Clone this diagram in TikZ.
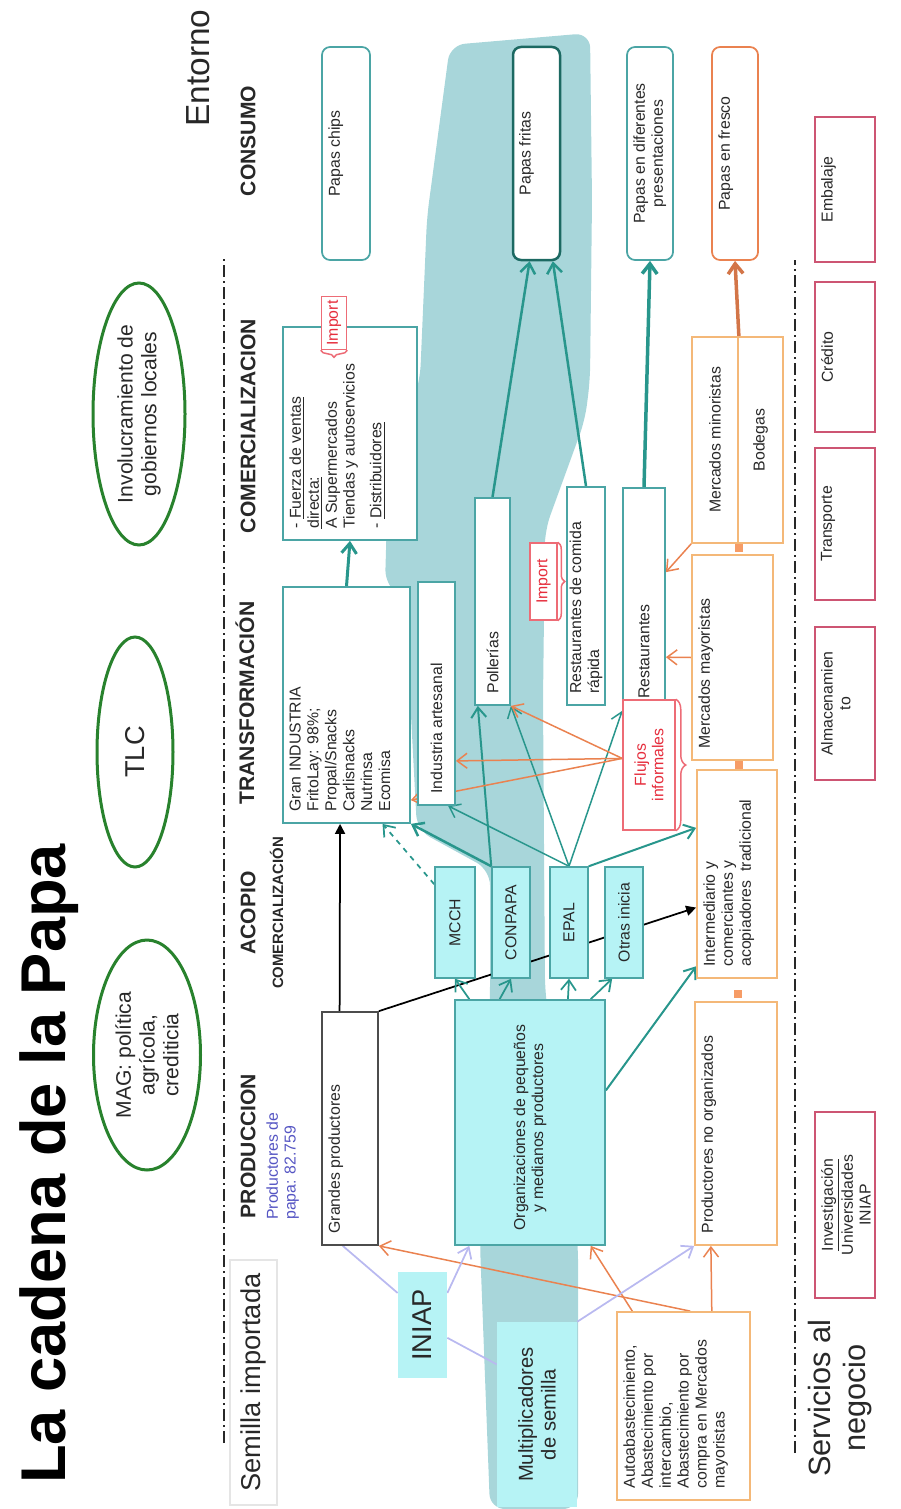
\documentclass[tikz,border=0pt]{standalone}
\usepackage{fontspec}
\setmainfont{Liberation Sans}
\usetikzlibrary{arrows.meta, positioning, shapes.geometric, calc, decorations.pathreplacing}

% Colores
\definecolor{turquesa}{RGB}{75,165,165}
\definecolor{turqflecha}{RGB}{40,150,140}
\definecolor{cian}{RGB}{182,243,245}
\definecolor{rio}{RGB}{168,214,218}
\definecolor{naranja}{RGB}{244,184,120}
\definecolor{naranjaflecha}{RGB}{234,130,80}
\definecolor{carmin}{RGB}{205,85,115}
\definecolor{verde}{RGB}{40,130,45}
\definecolor{lila}{RGB}{185,185,240}
\definecolor{azul}{RGB}{85,85,195}
\definecolor{rojo}{RGB}{230,45,60}
\definecolor{gristexto}{RGB}{40,40,40}

\pgfdeclarelayer{fondo}
\pgfdeclarelayer{enlaces}
\pgfsetlayers{fondo,enlaces,main}

\begin{document}
\begin{tikzpicture}[
    x=0.2mm, y=0.2mm,
    >={Straight Barb[length=2mm,width=3mm]},
    % Texto pequeño de las cajas
    txt/.style = {font=\fontsize{9}{10.2}\selectfont, text=gristexto, align=left, inner sep=0pt},
    % Texto arriba a la izquierda, arriba centrado, o a la izquierda
    arriba/.style = {label={[txt, anchor=north west, inner xsep=2.4mm, inner ysep=1.4mm]north west:#1}},
    arribac/.style = {label={[txt, align=center, anchor=north, inner ysep=1.4mm]north:#1}},
    izq/.style = {label={[txt, anchor=west, inner xsep=2.4mm]west:#1}},
    % Cajas turquesa (transformación, comercialización)
    caja/.style = {rectangle, draw=turquesa, fill=white, line width=0.35mm, inner sep=0pt},
    % Cajas de consumo (esquinas redondeadas)
    consumo/.style = {caja, rounded corners=1.6mm, minimum width=42.6mm},
    % Cajas con relleno cian (acopio)
    acopio/.style = {rectangle, draw=turquesa, fill=cian, line width=0.3mm, minimum width=22.2mm,
        font=\fontsize{9}{10}\selectfont, text=gristexto},
    % Cajas naranjas (canal tradicional)
    tradicional/.style = {rectangle, draw=naranja, fill=white, line width=0.35mm, inner sep=0pt,
        font=\fontsize{9}{10.2}\selectfont, text=gristexto, align=center},
    % Servicios al negocio
    servicio/.style = {rectangle, draw=carmin, fill=white, line width=0.5mm, inner sep=0pt, minimum height=12mm},
    % Óvalos del entorno
    ovalo/.style = {ellipse, draw=verde, line width=0.6mm, fill=white, align=center, inner sep=0pt,
        font=\fontsize{12}{13.5}\selectfont, text=gristexto},
    % Encabezados de las etapas
    etapa/.style = {font=\bfseries\fontsize{12}{13}\selectfont, text=gristexto},
    % Llamadas en rojo
    llamada/.style = {rectangle, draw=rojo!70, fill=white, line width=0.3mm, align=center,
        font=\fontsize{9}{10}\selectfont, text=rojo, inner sep=0pt},
    % Líneas
    flechat/.style = {->, draw=turqflecha, line width=0.4mm},
    flechan/.style = {->, draw=naranjaflecha, line width=0.3mm},
    flechal/.style = {draw=lila, line width=0.35mm},
    flechanegra/.style = {-{Triangle[length=2mm,width=2mm]}, draw=black, line width=0.35mm},
    separador/.style = {draw=gristexto, line width=0.35mm, dash pattern=on 2.4mm off 0.8mm on 0.4mm off 0.8mm}
]
\useasboundingbox (0,0) rectangle (901,-1509);

\begin{scope}[shift={(0,-1509)}, rotate=90, transform shape]

    % --- FONDO: el río de las organizaciones ---
    \begin{pgfonlayer}{fondo}
    \fill [rio, rounded corners=3mm] (1464,-450) -- (1476,-590) -- (1309,-592) -- (1129,-590)
        -- (1089,-585) -- (979,-545) -- (809,-543) -- (519,-545) -- (264,-578) -- (0,-578)
        -- (0,-490) -- (264,-480) -- (509,-490) -- (639,-490) -- (679,-417) -- (909,-405)
        -- (924,-385) -- (1029,-388) -- (1129,-420) -- (1292,-427) -- cycle;
    \end{pgfonlayer}

    % --- TÍTULO Y ENTORNO ---
    \node [anchor=base west, font=\bfseries\fontsize{36}{40}\selectfont] (titulo) at (19,-65) {La cadena de la Papa};
    \node [font=\fontsize{19}{22}\selectfont, text=gristexto] (entorno) at (1441,-198) {Entorno};
    \node [ovalo, minimum width=46mm, minimum height=21.4mm] (mag) at (454,-147) {MAG: política\\agrícola,\\crediticia};
    \node [ovalo, minimum width=46mm, minimum height=15.2mm, font=\fontsize{15.5}{17}\selectfont] (tlc) at (757,-135) {TLC};
    \node [ovalo, minimum width=52.4mm, minimum height=18.4mm] (gob) at (1095,-139) {Involucramiento de\\gobiernos locales};

    % Separadores
    \draw [separador] (66,-224) -- (1252,-224);
    \draw [separador] (56,-795) -- (1249,-795);

    % --- ENCABEZADOS ---
    \node [draw=black!10, line width=0.3mm, minimum width=49mm, minimum height=9.4mm,
           font=\fontsize{15.5}{17}\selectfont, text=gristexto] (semilla) at (126.5,-253.5) {Semilla importada};
    \node [etapa] (hprod) at (363,-248) {PRODUCCION};
    \node [txt, text=azul, anchor=north west] (nprod) at (289,-266) {Productores de\\papa: 82.759};
    \node [etapa] (hacop) at (596,-248) {ACOPIO};
    \node [etapa, font=\bfseries\fontsize{8.5}{9}\selectfont, below=0.4mm of hacop] (hacop2) {COMERCIALIZACIÓN};
    \node [etapa] (htrans) at (806,-245) {TRANSFORMACIÓN};
    \node [etapa] (hcom) at (1083,-248) {COMERCIALIZACION};
    \node [etapa] (hcons) at (1368,-248) {CONSUMO};

    % --- CONSUMO ---
    \node [consumo, minimum height=9.6mm, arribac={Papas chips}] (chips) at (1355.5,-346) {};
    \node [consumo, minimum height=9.4mm, draw=turqflecha!70!black, line width=0.5mm, arribac={Papas fritas}] (fritas) at (1355.5,-536.5) {};
    \node [consumo, minimum height=9.2mm, arribac={Papas en diferentes\\presentaciones}] (pres) at (1355.5,-650) {};
    \node [consumo, minimum height=9.2mm, draw=naranjaflecha, arribac={Papas en fresco}] (fresco) at (1355.5,-735) {};

    % --- COMERCIALIZACIÓN ---
    \node [caja, minimum width=42.6mm, minimum height=26.8mm,
           arriba={- \underline{Fuerza de ventas}\\\underline{directa:}\\A Supermercados\\Tiendas y autoservicios\\[5pt]- \underline{Distribuidores}}] (com) at (1075.5,-350) {};
    \node [caja, minimum width=41.4mm, minimum height=7mm, izq={Pollerías}] (poll) at (907.5,-492.5) {};
    \node [caja, minimum width=43.6mm, minimum height=7.6mm, izq={Restaurantes de comida\\rápida}] (rapida) at (913,-586) {};
    \node [caja, minimum width=44.4mm, minimum height=8.4mm, izq={Restaurantes}] (rest) at (910,-644) {};
    \node [tradicional, minimum width=41.2mm, minimum height=9.2mm] (minor) at (1069,-715) {Mercados minoristas};
    \node [tradicional, minimum width=41.2mm, minimum height=9mm] (bodeg) at (1069,-760.5) {Bodegas};

    % --- TRANSFORMACIÓN ---
    \node [caja, minimum width=47.2mm, minimum height=25.4mm,
           arriba={Gran INDUSTRIA\\FritoLay: 98\%;\\Propal/Snacks\\Carlisnacks\\Nutrinsa\\Ecomisa}] (gran) at (804,-346.5) {};
    \node [caja, minimum width=44.6mm, minimum height=7.4mm, izq={Industria artesanal}] (artes) at (815.5,-436.5) {};
    \node [tradicional, minimum width=41mm, minimum height=16.2mm, arriba={Mercados mayoristas}] (mayor) at (851.5,-732.5) {};

    % --- ACOPIO ---
    \node [acopio, minimum height=8mm] (mcch) at (586.5,-455) {MCCH};
    \node [acopio, minimum height=7.6mm] (conpapa) at (586.5,-511) {CONPAPA};
    \node [acopio, minimum height=7.6mm] (epal) at (586.5,-569) {EPAL};
    \node [acopio, minimum height=7.6mm] (otras) at (586.5,-624) {Otras inicia};
    \node [tradicional, minimum width=41.6mm, minimum height=16mm,
           arriba={Intermediario y\\comerciantes y\\acopiadores\ \ tradicional}] (inter) at (635,-737) {};

    % --- PRODUCCIÓN ---
    \node [caja, draw=black!70, minimum width=46.6mm, minimum height=11.2mm, arriba={Grandes productores}] (grandes) at (380.5,-350) {};
    \node [caja, fill=cian, minimum width=49mm, minimum height=30mm,
           label={[txt, align=center, anchor=west, inner xsep=3mm]west:Organizaciones de pequeños\\y medianos productores}] (org) at (386.5,-530) {};
    \node [tradicional, minimum width=48.6mm, minimum height=16.4mm, arriba={Productores no organizados}] (noorg) at (385.5,-736) {};
    \node [tradicional, minimum width=37.6mm, minimum height=26.6mm,
           arriba={Autoabastecimiento,\\Abastecimiento por\\intercambio,\\Abastecimiento por\\compra en Mercados\\mayoristas}] (auto) at (103,-683.5) {};
    \node [fill=cian, minimum width=21.2mm, minimum height=9.8mm, font=\fontsize{15.5}{17}\selectfont, text=gristexto] (iniap) at (184,-422.5) {INIAP};
    \node [fill=cian, minimum width=37mm, minimum height=16mm, align=center,
           font=\fontsize{11.5}{13}\selectfont, text=gristexto] (multi) at (94.5,-537) {Multiplicadores\\de semilla};

    % Uniones del canal tradicional
    \node [fill=naranja!85!red, minimum size=1.6mm, inner sep=0pt] (union1) at (961,-739) {};
    \node [fill=naranja!85!red, minimum size=1.6mm, inner sep=0pt] (union2) at (744,-739) {};
    \node [fill=naranja!85!red, minimum size=1.6mm, inner sep=0pt] (union3) at (515,-738) {};

    % --- LLAMADAS EN ROJO ---
    \node [llamada, minimum width=10.6mm, minimum height=5mm] (imp1) at (1186,-334) {Import};
    \node [llamada, minimum width=15.4mm, minimum height=5.4mm] (imp2) at (927.5,-543.5) {Import};
    \node [llamada, minimum width=26mm, minimum height=10.4mm] (flujos) at (744,-649) {Flujos\\informales};
    \draw [rojo!70, line width=0.3mm, decorate, decoration={brace, amplitude=1.4mm}] (imp1.south west) -- (imp1.north west);
    \draw [rojo!70, line width=0.3mm, decorate, decoration={brace, amplitude=1.4mm}] (imp2.south east) -- (imp2.south west);
    \draw [rojo!70, line width=0.3mm, decorate, decoration={brace, amplitude=2mm}] (flujos.south east) -- (flujos.south west);

    % --- SERVICIOS AL NEGOCIO ---
    \node [font=\fontsize{17.5}{20}\selectfont, align=center, text=gristexto] (servicios) at (111,-840) {Servicios al\\negocio};
    \node [servicio, minimum width=37.2mm, arribac={\underline{Investigación}\\Universidades\\INIAP}] (invest) at (304,-845) {};
    \node [servicio, minimum width=30.6mm, arribac={Almacenamien\\to}] (almac) at (805.5,-845) {};
    \node [servicio, minimum width=30.4mm, arribac={Transporte}] (transp) at (985,-845) {};
    \node [servicio, minimum width=30mm, arribac={Crédito}] (credito) at (1152,-845) {};
    \node [servicio, minimum width=29mm, arribac={Embalaje}] (embal) at (1319.5,-845) {};

    % --- CONEXIONES ---
    \begin{pgfonlayer}{enlaces}
    % hacia comercialización y consumo
    \draw [flechat, line width=0.6mm] (gran.east) -- (com.west);
    \draw [flechat, line width=0.5mm] (poll.east) -- ($(fritas.north west)!0.36!(fritas.south west)$);
    \draw [flechat, line width=0.5mm] (rapida.east) -- ($(fritas.north west)!0.83!(fritas.south west)$);
    \draw [flechat, line width=0.7mm] (rest.east) -- (pres.west);
    \draw [->, draw=naranjaflecha!90!black, line width=0.7mm] (minor.south east) -- (fresco.west);

    % grandes productores
    \draw [flechanegra] ($(grandes.north east)!0.32!(grandes.south east)$) -- ($(gran.north west)!0.45!(gran.south west)$);
    \draw [flechanegra] (grandes.south east) -- ($(inter.north west)!0.34!(inter.north east)$);

    % desde el acopio
    \draw [flechat, dashed, line width=0.35mm] ($(mcch.north east)!0.16!(mcch.north west)$) -- ($(gran.north west)!0.78!(gran.south west)$);
    \draw [flechat, line width=0.5mm] (conpapa.north east) -- (gran.south west);
    \draw [flechat] (conpapa.north east) -- ($(poll.north west)!0.1!(poll.south west)$);
    \draw [flechat, line width=0.3mm] (epal.east) -- ($(artes.north west)!0.8!(artes.south west)$);
    \draw [flechat, line width=0.3mm] (epal.east) -- (poll.south west);
    \draw [flechat, line width=0.3mm] (epal.east) -- (rest.north west);
    \draw [flechat] (epal.south east) -- ($(inter.north west)!0.72!(inter.north east)$);

    % organizaciones hacia el acopio
    \draw [flechat, line width=0.35mm] ($(org.north east)!0.1!(org.south east)$) -- (mcch.west);
    \draw [flechat, line width=0.35mm] ($(org.north east)!0.3!(org.south east)$) -- (conpapa.west);
    \draw [flechat, line width=0.35mm] ($(org.north east)!0.75!(org.south east)$) -- (epal.west);
    \draw [flechat, line width=0.35mm] ($(org.north east)!0.9!(org.south east)$) -- ($(otras.north west)!0.2!(otras.south west)$);
    \draw [flechat] ($(org.south west)!0.63!(org.south east)$) -- ($(inter.north west)!0.06!(inter.north east)$);

    % flujos informales y canal tradicional
    \draw [flechan] ($(flujos.north west)!0.55!(flujos.north east)$) -- ($(gran.south west)!0.1!(gran.south east)$);
    \draw [flechan] ($(flujos.north west)!0.55!(flujos.north east)$) -- ($(artes.south west)!0.2!(artes.south east)$);
    \draw [flechan] ($(flujos.north west)!0.55!(flujos.north east)$) -- (poll.south west);
    \draw [flechan] ($(mayor.north west)!0.5!(mayor.north east)$) -- ($(rest.south west)!0.24!(rest.south east)$);
    \draw [flechan] (minor.north west) -- ($(rest.south west)!0.62!(rest.south east)$);

    % abastecimiento de semilla
    \draw [flechan] ($(auto.north east)!0.55!(auto.south east)$) -- (grandes.south west);
    \draw [flechan] ($(auto.north east)!0.12!(auto.south east)$) -- ($(org.north west)!0.9!(org.south west)$);
    \draw [flechan] ($(auto.north east)!0.71!(auto.south east)$) -- ($(noorg.north west)!0.2!(noorg.south west)$);

    % INIAP y multiplicadores
    \draw [flechal] ($(iniap.north west)!0.8!(iniap.north east)$) -- ($(grandes.north west)!0.375!(grandes.south west)$);
    \draw [flechal, ->] ($(iniap.south west)!0.8!(iniap.south east)$) -- ($(org.north west)!0.1!(org.south west)$);
    \draw [flechal] ($(iniap.south west)!0.38!(iniap.south east)$) -- ($(multi.north west)!0.77!(multi.north east)$);
    \draw [flechal, ->] (multi.south east) -- (noorg.north west);
    \end{pgfonlayer}

\end{scope}
\end{tikzpicture}
\end{document}
